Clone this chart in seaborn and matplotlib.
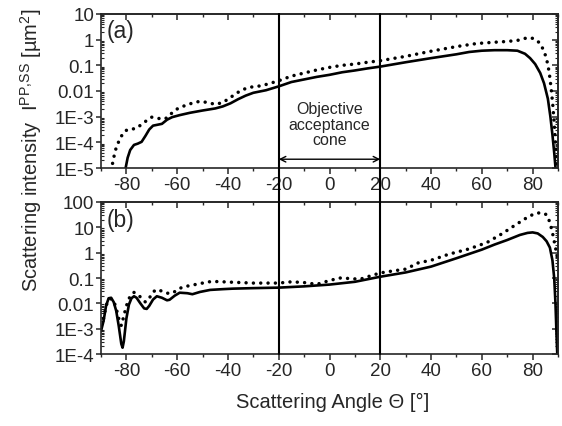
import numpy as np
import pandas as pd
import matplotlib
matplotlib.use("Agg")
import matplotlib.pyplot as plt
import seaborn as sns
from matplotlib import ticker, transforms
from matplotlib.lines import Line2D

# ---------------- data (intensities as log10 values) ----------------
a_solid_theta = [-80.5, -79.5, -78.5, -77, -75.5, -74, -72.5, -71, -69.5, -68, -66, -64, -62, -59,
                 -55, -50, -45, -42, -39, -36, -33, -30, -25, -20, -15, -10, -5, 0, 5, 10, 15, 20,
                 30, 40, 50, 55, 60, 65, 70, 74, 77, 79, 81, 83, 84.5, 86, 87, 87.8, 88.5, 89.2]
a_solid_log10 = [-5.1, -4.6, -4.3, -4.1, -4.05, -3.98, -3.75, -3.5, -3.35, -3.32, -3.28, -3.12, -3.02, -2.94,
                 -2.85, -2.76, -2.68, -2.6, -2.48, -2.32, -2.18, -2.07, -1.97, -1.82, -1.65, -1.55, -1.45,
                 -1.37, -1.27, -1.2, -1.12, -1.05, -0.88, -0.72, -0.57, -0.48, -0.43, -0.41, -0.41, -0.43,
                 -0.55, -0.72, -0.95, -1.3, -1.7, -2.3, -3.0, -3.7, -4.4, -5.2]

a_dot_theta = [-86, -85, -84, -82.5, -81, -79.5, -77.5, -76, -74, -72, -70, -68, -66, -64, -62, -60,
               -57, -54, -51, -48, -45, -42, -39, -36, -33, -30, -27, -24, -20, -15, -10, -5, 0, 5,
               10, 15, 20, 30, 40, 50, 58, 65, 70, 74, 77, 79, 81, 83, 84.5, 85.5, 86.5, 87.3, 88,
               88.6, 89.2, 89.7]
a_dot_log10 = [-5.1, -4.6, -4.2, -3.85, -3.6, -3.5, -3.48, -3.45, -3.3, -3.15, -3.02, -3.05, -3.1, -3.05,
               -2.85, -2.7, -2.57, -2.47, -2.4, -2.45, -2.52, -2.45, -2.25, -2.05, -1.9, -1.83, -1.8,
               -1.72, -1.6, -1.42, -1.3, -1.18, -1.08, -1.0, -0.95, -0.88, -0.82, -0.65, -0.45, -0.27,
               -0.15, -0.1, -0.07, -0.03, 0.05, 0.08, 0.02, -0.15, -0.45, -0.75, -1.25, -1.9, -2.6,
               -3.4, -4.3, -5.2]

b_solid_theta = [-90, -89, -88, -87, -86, -85, -84, -83, -82, -81.5, -81, -80, -79, -78, -77, -76,
                 -74.5, -73, -72, -71, -69.5, -68, -66, -64, -63, -61, -59, -56, -54, -51, -47, -42,
                 -38, -30, -20, -10, 0, 10, 20, 30, 40, 50, 60, 65, 70, 75, 78, 80, 82, 84, 85.5,
                 86.8, 87.8, 88.5, 89, 89.5, 89.8]
b_solid_log10 = [-3.1, -2.7, -2.1, -1.8, -1.78, -1.95, -2.3, -2.9, -3.6, -3.75, -3.5, -2.6, -2.05, -1.8,
                 -1.72, -1.78, -2.0, -2.2, -2.22, -2.1, -1.85, -1.72, -1.78, -1.88, -1.86, -1.7, -1.58,
                 -1.6, -1.64, -1.55, -1.47, -1.44, -1.42, -1.4, -1.38, -1.33, -1.26, -1.15, -0.95,
                 -0.78, -0.55, -0.22, 0.12, 0.32, 0.5, 0.7, 0.78, 0.8, 0.76, 0.62, 0.45, 0.2, -0.3,
                 -1.0, -2.0, -3.5, -4.2]

b_dot_theta = [-89, -88, -87, -86, -85, -84, -83, -82, -81, -80, -78.5, -77, -75.5, -74, -72.5, -71,
               -69.5, -68, -66, -64, -62, -60, -58, -55, -51, -47.5, -44, -40, -35, -30, -25, -20,
               -15, -10, -5, 0, 4, 8, 12, 16, 20, 25, 30, 35, 40, 47, 55, 62, 68, 73, 78, 81, 83.5,
               85.5, 86.8, 88, 89, 89.8]
b_dot_log10 = [-2.6, -2.1, -1.85, -1.82, -1.9, -2.2, -2.6, -2.88, -2.5, -2.1, -1.7, -1.57, -1.65, -1.8,
               -1.95, -1.8, -1.55, -1.45, -1.52, -1.6, -1.6, -1.48, -1.36, -1.3, -1.22, -1.15, -1.14,
               -1.16, -1.18, -1.2, -1.2, -1.2, -1.15, -1.18, -1.25, -1.1, -1.0, -1.02, -1.05, -0.92,
               -0.8, -0.72, -0.65, -0.4, -0.3, -0.06, 0.15, 0.4, 0.75, 1.08, 1.4, 1.55, 1.58, 1.5,
               1.2, 0.7, 0.2, -0.2]

cone_edges = [-20, 20]
x_ticks = [-80, -60, -40, -20, 0, 20, 40, 60, 80]
x_ticklabels = ["-80", "-60", "-40", "-20", "0", "20", "40", "60", "80"]
top_yticks = [1e1, 1e0, 1e-1, 1e-2, 1e-3, 1e-4, 1e-5]
top_yticklabels = ["10", "1", "0.1", "0.01", "1E-3", "1E-4", "1E-5"]
bot_yticks = [1e2, 1e1, 1e0, 1e-1, 1e-2, 1e-3, 1e-4]
bot_yticklabels = ["100", "10", "1", "0.1", "0.01", "1E-3", "1E-4"]

# ---------------- style ----------------
sns.set_style("ticks")
plt.rcParams["font.family"] = ["Liberation Sans", "DejaVu Sans"]
plt.rcParams["axes.linewidth"] = 1.2

fig = plt.figure(figsize=(5.62, 4.27), dpi=100)
ax1 = fig.add_axes([0.1797, 0.6042, 0.8132, 0.3607])
ax2 = fig.add_axes([0.1797, 0.1686, 0.8132, 0.3560])

solid_kw = dict(lw=1.9, linestyle="-", solid_capstyle="round", solid_joinstyle="round")
dot_kw = dict(lw=2.5, linestyle=(0, (0.01, 2.1)), dash_capstyle="round")


def draw(ax, th, lg, kw):
    df = pd.DataFrame({"theta": th, "I": np.power(10.0, np.array(lg))})
    sns.lineplot(data=df, x="theta", y="I", ax=ax, color="black", estimator=None,
                 sort=False, **kw)


for ax, ylim in [(ax1, (1e-5, 1e1)), (ax2, (1e-4, 1e2))]:
    ax.set_yscale("log")
    ax.set_xlim(-90, 90)
    ax.set_ylim(*ylim)

draw(ax1, a_dot_theta, a_dot_log10, dot_kw)
draw(ax1, a_solid_theta, a_solid_log10, solid_kw)
draw(ax2, b_dot_theta, b_dot_log10, dot_kw)
draw(ax2, b_solid_theta, b_solid_log10, solid_kw)

for ax, ylim, yt, ytl in [(ax1, (1e-5, 1e1), top_yticks, top_yticklabels),
                          (ax2, (1e-4, 1e2), bot_yticks, bot_yticklabels)]:
    ax.set_xlim(-90, 90)
    ax.set_ylim(*ylim)
    ax.set_xlabel("")
    ax.set_ylabel("")
    ax.set_xticks(x_ticks)
    ax.set_xticklabels(x_ticklabels)
    ax.xaxis.set_minor_locator(ticker.MultipleLocator(10))
    ax.set_yticks(yt)
    ax.set_yticklabels(ytl)
    ax.yaxis.set_minor_locator(ticker.LogLocator(base=10, subs=np.arange(2, 10), numticks=30))
    ax.yaxis.set_minor_formatter(ticker.NullFormatter())
    ax.tick_params(axis="x", which="major", direction="out", length=4, width=1.1,
                   labelsize=13.5, pad=2, top=False)
    ax.tick_params(axis="x", which="minor", direction="out", length=2.5, width=1.0, top=False)
    ax.tick_params(axis="y", which="major", direction="out", length=3.5, width=1.1,
                   labelsize=13.5, pad=1.5, right=False)
    ax.tick_params(axis="y", which="minor", direction="in", length=2, width=0.8, right=False)
    for s in ax.spines.values():
        s.set_visible(True)
        s.set_linewidth(1.2)
    # inward ticks on top and right
    sx = ax.secondary_xaxis("top")
    sx.set_xticks(x_ticks)
    sx.xaxis.set_minor_locator(ticker.MultipleLocator(10))
    sx.tick_params(axis="x", which="major", direction="in", length=4, width=1.1, labeltop=False)
    sx.tick_params(axis="x", which="minor", direction="in", length=2.5, width=1.0)
    sy = ax.secondary_yaxis("right")
    sy.set_yticks(yt)
    sy.yaxis.set_minor_locator(ticker.LogLocator(base=10, subs=np.arange(2, 10), numticks=30))
    sy.yaxis.set_minor_formatter(ticker.NullFormatter())
    sy.tick_params(axis="y", which="major", direction="in", length=4, width=1.1, labelright=False)
    sy.tick_params(axis="y", which="minor", direction="in", length=2, width=0.8)

# panel labels
ax1.text(0.012, 0.895, "(a)", transform=ax1.transAxes, fontsize=16.5, ha="left", va="center")
ax2.text(0.012, 0.885, "(b)", transform=ax2.transAxes, fontsize=16.5, ha="left", va="center")

# vertical cone lines spanning both panels
trans = transforms.blended_transform_factory(ax1.transData, fig.transFigure)
for xe in cone_edges:
    fig.add_artist(Line2D([xe, xe], [0.1686, 0.9649], transform=trans, color="black", lw=1.5))

# annotation
ax1.text(0, 5.1e-4, "Objective\nacceptance\ncone", ha="center", va="center",
         fontsize=11.5, linespacing=1.05)
ax1.annotate("", xy=(cone_edges[0], 2.2e-5), xytext=(cone_edges[1], 2.2e-5),
             arrowprops=dict(arrowstyle="<->", color="black", lw=1.0,
                             shrinkA=0, shrinkB=0, mutation_scale=10))

# axis titles
fig.text(0.055, 0.649,
         "Scattering intensity  I$^{\\mathregular{PP{,}SS}}$ [µm$^{\\mathregular{2}}$]",
         rotation=90, ha="center", va="center", fontsize=14.5)
fig.text(0.5925, 0.058, "Scattering Angle Θ [°]", ha="center", va="center", fontsize=14.5)

fig.savefig("out.png", dpi=100)
